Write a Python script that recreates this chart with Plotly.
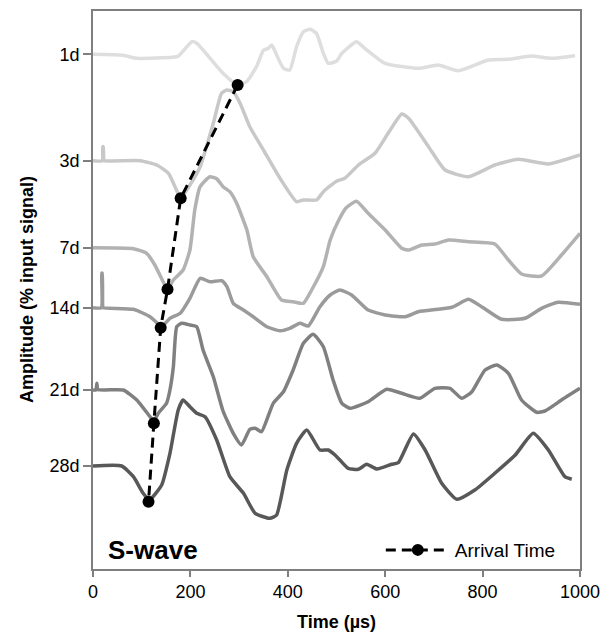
import plotly.graph_objects as go

# ---- data (time in µs, amplitude relative to each trace baseline, arbitrary units) ----
labels = ["1d", "3d", "7d", "14d", "21d", "28d"]
offsets = [514.7, 408.3, 321.3, 261.3, 179.0, 103.0]
colors = ["#dedede", "#c8c8c8", "#b2b2b2", "#9a9a9a", "#808080", "#585858"]

t_1d = [0, 62, 90, 164, 175, 203, 213, 267, 297, 316, 336, 350, 360, 367, 374, 391, 404, 418, 432, 446, 459, 473,
        483, 500, 511, 541, 558, 600, 668, 709, 750, 812, 853, 901, 942, 990]
a_1d = [0, -1, -4, -3, -2, 12.6, 11, -19, -30.7, -27, -12, 4, 6, 9.3, 2.7, -14, -15.7, 7.6, 22.6, 25, 21, 1,
        -9, -7, 1, 12.6, 6, -9, -14, -10.7, -16.4, -5.7, -5, -1.7, -4, -1.4]

t_3d = [0, 19, 20, 21, 22, 23, 97, 131, 155, 173, 180, 199, 220, 247, 264, 275, 288, 302, 322, 350, 384, 418, 432,
        459, 473, 500, 517, 545, 579, 606, 634, 648, 689, 723, 771, 825, 873, 935, 1000]
a_3d = [0, 0, 14, 14, 1, 0, 0, -4.3, -12.6, -31, -37.6, -24.3, -6, 37.4, 67.4, 70.7, 69, 57.4, 34, 10.7, -17.6, -41,
        -39.3, -39.3, -31, -20.5, -17.6, -4.3, 7.4, 27.4, 46.7, 42.4, 14, -9.3, -16, -4.3, 1.4, -3.3, 5.7]

t_7d = [0, 83, 110, 127, 144, 153, 165, 185, 199, 209, 220, 240, 254, 267, 281, 295, 316, 329, 357, 387, 411, 432,
        449, 473, 487, 505, 520, 541, 565, 600, 634, 648, 675, 702, 730, 771, 825, 853, 880, 921, 962, 1000]
a_7d = [0, -1, -5.6, -17.3, -34, -41.6, -32.3, -22.3, -2.3, 37.7, 61, 71, 69, 61, 56, 44.4, 17.7, -9, -29, -52.3, -54,
        -55.6, -42.3, -19, 7.7, 28, 40, 46.5, 34.4, 17.7, -0.6, -2.3, 2.7, 3.7, 7.7, 6, 3.7, -12.3, -26.3, -28.3, -7.3, 14.4]

t_14d = [0, 17, 18, 19, 20, 21, 83, 117, 135, 139, 158, 179, 199, 220, 240, 264, 275, 288, 309, 329, 357, 384, 404,
         425, 442, 466, 487, 507, 531, 565, 600, 641, 668, 737, 771, 798, 839, 887, 921, 955, 1000]
a_14d = [0, 0, 34.4, 34.4, 1, 0, -1.6, -9, -17, -20, -10.6, -5.6, 9.4, 29.4, 26, 27, 21, 4.4, -2.3, -9, -19, -23, -20.6,
         -15.6, -18.3, 1, 12.7, 17.7, 12.7, -2.3, -7.3, -9, -4, 0.4, 8.4, 1, -11.6, -10.6, -0.6, 5.4, 3.4]

t_21d = [0, 6, 8, 10, 62, 90, 117, 125, 134, 151, 158, 165, 172, 182, 199, 213, 226, 247, 267, 288, 305, 322, 333,
         346, 370, 391, 411, 432, 452, 473, 493, 511, 528, 565, 603, 634, 671, 702, 733, 757, 778, 805, 829, 853,
         880, 911, 928, 962, 1000]
a_21d = [0, 0, 6.7, 0.5, 0, -10, -26.7, -31, -23.3, -13.3, 0, 23.3, 63.3, 66.7, 65, 63.3, 40, 13.3, -21, -43.3, -55,
         -39.3, -38.3, -41.7, -13.3, -1.7, 20, 46.7, 55.7, 43.3, 10, -13.3, -18.3, -11.7, 0.7, -3.3, -8.3, 1.7, 1.7,
         -8.3, -1.7, 20, 25, 16.7, -10, -22.3, -21, -10, 1.7]

t_28d = [0, 59, 83, 103, 114, 120, 141, 158, 175, 185, 199, 213, 230, 254, 281, 309, 333, 363, 377, 398, 418, 439,
         466, 483, 497, 507, 524, 545, 562, 583, 613, 627, 658, 682, 716, 747, 784, 825, 867, 904, 935, 969, 983]
a_28d = [0, 0, -10.7, -27.3, -33, -32.3, -19, 12.7, 56, 66, 59.3, 52.7, 49.3, 26, -10.7, -27.3, -47.3, -52.3, -49, -4,
         22.7, 36, 16, 16, 11, 6, -2.3, -3.3, 1.7, -3, 1.7, 3.3, 32, 16, -17.3, -33.3, -24, -7.3, 11, 32.7, 16, -10.7,
         -13.3]

times = [t_1d, t_3d, t_7d, t_14d, t_21d, t_28d]
amps = [a_1d, a_3d, a_7d, a_14d, a_21d, a_28d]

arrival_t = [297, 180, 153, 139, 125, 114]
arrival_a = [-30.7, -37.6, -41.6, -20.0, -33.3, -35.7]

x_ticks = [0, 200, 400, 600, 800, 1000]

FONT = "Liberation Sans, Arial, Helvetica, sans-serif"

fig = go.Figure()
for lab, off, col, tt, aa in zip(labels, offsets, colors, times, amps):
    fig.add_trace(go.Scatter(
        x=tt, y=[off + a for a in aa], mode="lines", name=lab,
        line=dict(color=col, width=3.5, shape="spline", smoothing=0.5),
        showlegend=False, hoverinfo="skip"))

fig.add_trace(go.Scatter(
    x=arrival_t, y=[o + a for o, a in zip(offsets, arrival_a)],
    mode="lines+markers", name="Arrival Time",
    line=dict(color="black", width=3, dash="10px,6px"),
    marker=dict(color="black", size=12),
    showlegend=True))

axis_col = "#7f7f7f"
fig.update_layout(
    width=611, height=634,
    margin=dict(l=93, r=31, t=11, b=65, autoexpand=False),
    paper_bgcolor="white", plot_bgcolor="white",
    font=dict(family=FONT, size=18, color="black"),
    xaxis=dict(range=[0, 1000], tickvals=x_ticks, ticks="outside", ticklen=6, tickwidth=1.5,
               tickcolor=axis_col, showline=True, linecolor=axis_col, linewidth=1.5, mirror=True,
               showgrid=False, zeroline=False, automargin=False,
               tickfont=dict(size=18)),
    yaxis=dict(range=[0, 558], tickvals=offsets, ticktext=labels, ticks="outside", ticklen=8, tickwidth=1.5,
               tickcolor=axis_col, showline=True, linecolor=axis_col, linewidth=1.5, mirror=True,
               showgrid=False, zeroline=False, automargin=False,
               tickfont=dict(size=18)),
    legend=dict(x=0.591, y=0.034, xanchor="left", yanchor="middle", bgcolor="rgba(0,0,0,0)",
                font=dict(size=19), itemwidth=64, borderwidth=0),
    annotations=[
        dict(text="<b>S-wave</b>", x=0.026, y=0.034, xref="paper", yref="paper",
             xanchor="left", yanchor="middle", showarrow=False, font=dict(size=26, family=FONT)),
        dict(text="<b>Time (µs)</b>", x=0.5, y=-0.095, xref="paper", yref="paper",
             xanchor="center", yanchor="middle", showarrow=False, font=dict(size=18, family=FONT)),
        dict(text="<b>Amplitude (% input signal)</b>", x=-0.1355, y=0.5, xref="paper", yref="paper",
             xanchor="center", yanchor="middle", textangle=-90, showarrow=False,
             font=dict(size=18, family=FONT)),
    ],
)

fig.write_html("out.html")
